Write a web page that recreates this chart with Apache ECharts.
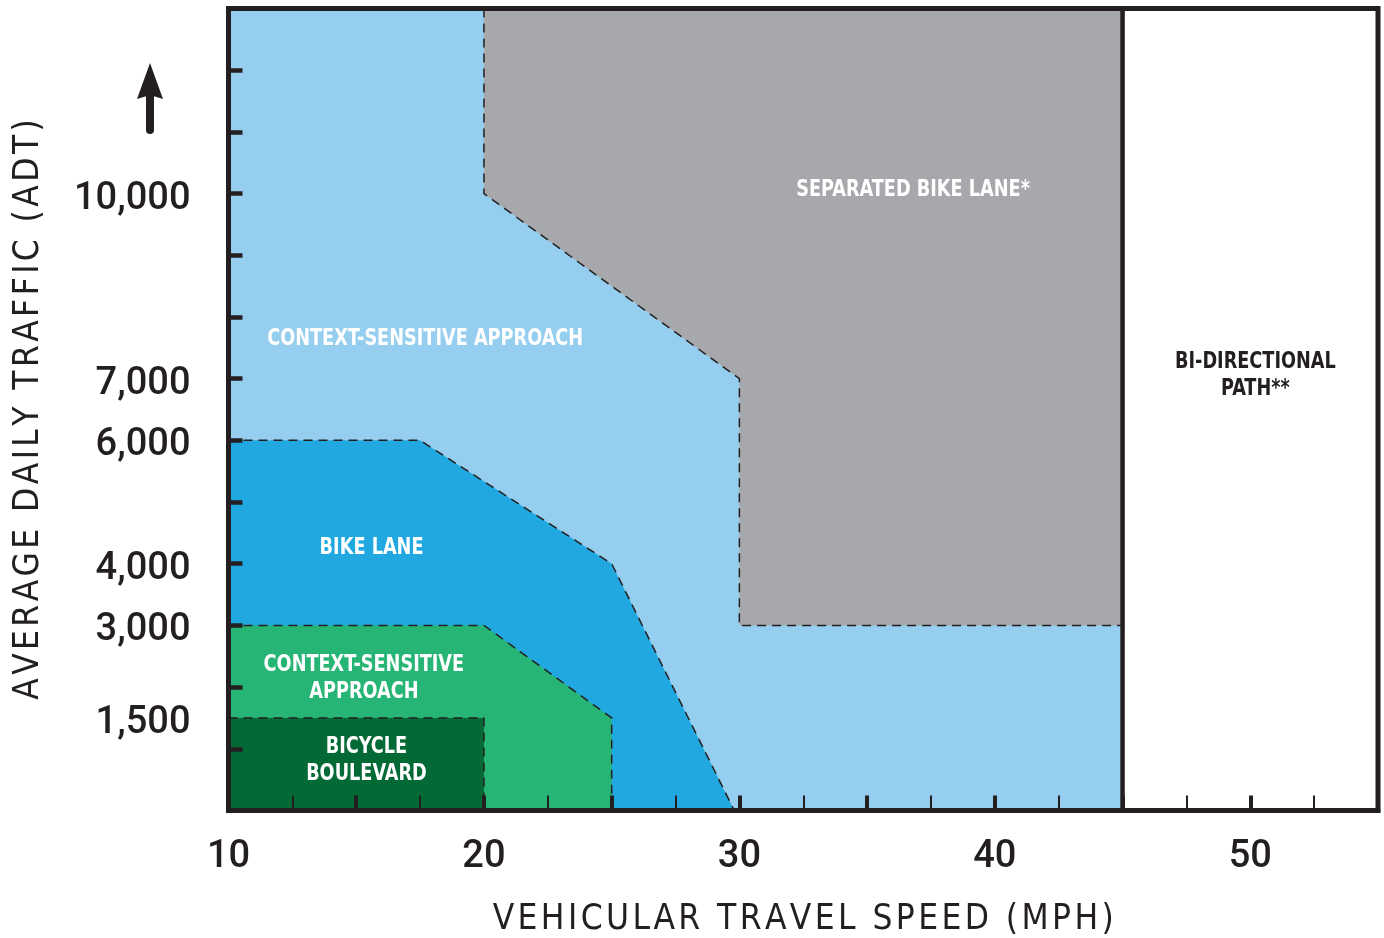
<!DOCTYPE html>
<html>
<head>
<meta charset="utf-8">
<title>Bikeway selection by speed and volume</title>
<script src="https://cdn.jsdelivr.net/npm/echarts@6/dist/echarts.min.js"></script>
<style>
  html, body { margin: 0; padding: 0; background: #fff; }
  #chart { width: 1384px; height: 938px; }
</style>
</head>
<body>
<div id="chart"></div>
<script>
// zones as polygons of [speed (mph), ADT]; the first points of each are its inner border
const contextHigh = [[10, 0], [10, 13000], [45, 13000], [45, 0]];
const separatedLane = [[20, 13000], [20, 10000], [30, 7000], [30, 3000], [45, 3000], [45, 13000]];
const bikeLane = [[10, 6000], [17.5, 6000], [25, 4000], [29.8, 0], [10, 0]];
const contextLow = [[10, 3000], [20, 3000], [25, 1500], [25, 0], [10, 0]];
const boulevard = [[10, 1500], [20, 1500], [20, 0], [10, 0]];
const biDirectional = [[45, 0], [45, 13000], [55, 13000], [55, 0]];

const zoneNames = [
  'CONTEXT-SENSITIVE APPROACH',
  'SEPARATED BIKE LANE*',
  'BIKE LANE',
  'CONTEXT-SENSITIVE\nAPPROACH',
  'BICYCLE\nBOULEVARD',
  'BI-DIRECTIONAL\nPATH**'
];

const xLabels = [10, 20, 30, 40, 50];
const yLabels = [1500, 3000, 4000, 6000, 7000, 10000];
const yTicks = [1000, 2000, 3000, 4000, 5000, 6000, 7000, 8000, 9000, 10000, 11000, 12000];

const ink = '#231F20';
const narrow = "'Liberation Sans Narrow', 'DejaVu Sans Condensed', sans-serif";

const zones = [
  { pts: contextHigh, fill: '#95CEEE', edge: 0, at: [17.7, 7650], color: '#fff' },
  { pts: separatedLane, fill: '#A7A8AB', edge: 5, at: [36.8, 10060], color: '#fff' },
  { pts: bikeLane, fill: '#21A8E0', edge: 4, at: [15.6, 4250], color: '#fff' },
  { pts: contextLow, fill: '#26B574', edge: 4, at: [15.3, 2140], color: '#fff' },
  { pts: boulevard, fill: '#036935', edge: 3, at: [15.4, 815], color: '#fff' },
  { pts: biDirectional, fill: '#fff', edge: 2, solid: true, at: [50.2, 7050], color: ink }
];

// wide letter spacing for the axis titles
function spaced(str) {
  return str.split('').map(c => '{s|' + c + '}').join('');
}

function renderZone(params, api) {
  const z = zones[params.dataIndex];
  const pts = z.pts.map(p => api.coord(p));
  const children = [{ type: 'polygon', shape: { points: pts }, style: { fill: z.fill } }];
  if (z.edge) {
    children.push({
      type: 'polyline',
      shape: { points: pts.slice(0, z.edge) },
      style: {
        stroke: ink, fill: null,
        lineWidth: z.solid ? 4.5 : 1.5,
        lineDash: z.solid ? null : [9, 6]
      }
    });
  }
  const c = api.coord(z.at);
  children.push({
    type: 'text',
    z2: 10,
    x: c[0], y: c[1],
    scaleX: 0.855,
    style: {
      text: zoneNames[params.dataIndex],
      x: 0, y: 0,
      fill: z.color,
      font: 'bold 23px ' + narrow,
      lineHeight: 27,
      align: 'center',
      verticalAlign: 'middle'
    }
  });
  return { type: 'group', children: children };
}

const titleStyle = {
  color: ink,
  fontSize: 35,
  fontFamily: narrow,
  rich: { s: { color: ink, fontSize: 35, fontFamily: narrow, padding: [0, 1.7, 0, 1.7] } }
};

const tickFont = { color: ink, fontSize: 38, fontFamily: 'Roboto', fontWeight: 500 };

const chart = echarts.init(document.getElementById('chart'));
chart.setOption({
  animation: false,
  grid: {
    left: 228.5, right: 6, top: 8.5, bottom: 127.5,
    outerBoundsMode: 'none',
    show: true, borderColor: ink, borderWidth: 5, z: 10,
    backgroundColor: 'transparent'
  },
  xAxis: {
    type: 'value', min: 10, max: 55, interval: 5, z: 10,
    axisLine: { lineStyle: { color: ink, width: 5 } },
    axisTick: { inside: true, length: 15, lineStyle: { color: ink, width: 4 } },
    minorTick: { show: true, splitNumber: 2, length: 15, lineStyle: { color: ink, width: 2 } },
    splitLine: { show: false },
    axisLabel: Object.assign({ customValues: xLabels, margin: 28 }, tickFont),
    name: spaced('VEHICULAR TRAVEL SPEED (MPH)'),
    nameLocation: 'middle', nameGap: 92,
    nameTextStyle: titleStyle
  },
  yAxis: {
    type: 'value', min: 0, max: 13000, interval: 1000, z: 10,
    axisLine: { show: true, lineStyle: { color: ink, width: 5 } },
    axisTick: { show: true, inside: true, length: 14, customValues: yTicks, lineStyle: { color: ink, width: 4.5 } },
    splitLine: { show: false },
    axisLabel: Object.assign({
      customValues: yLabels, margin: 38,
      formatter: v => '{a|' + v.toLocaleString('en-US') + '}',
      rich: { a: Object.assign({ padding: [11, 0, 0, 0] }, tickFont) }
    }, tickFont),
    name: spaced('AVERAGE DAILY TRAFFIC (ADT)'),
    nameLocation: 'middle', nameGap: 182,
    nameTextStyle: titleStyle
  },
  graphic: [
    { type: 'line', shape: { x1: 150, y1: 94, x2: 150, y2: 130 }, style: { stroke: ink, lineWidth: 8, lineCap: 'round' } },
    { type: 'polygon', shape: { points: [[150, 63], [163, 99], [150, 95], [137, 99]] }, style: { fill: ink } }
  ],
  series: [{
    type: 'custom',
    silent: true,
    clip: false,
    renderItem: renderZone,
    data: zones.map(z => z.at)
  }]
});
</script>
</body>
</html>
